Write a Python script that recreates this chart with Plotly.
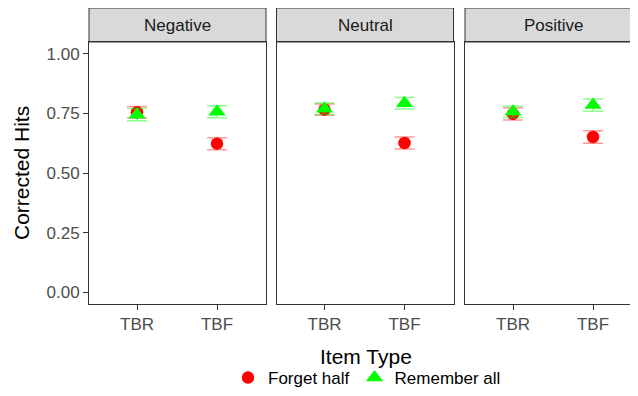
import plotly.graph_objects as go

panels = ["Negative", "Neutral", "Positive"]
item_types = ["TBR", "TBF"]
groups = ["Forget half", "Remember all"]

# means and standard errors per panel: [TBR, TBF]
forget_mean = {"Negative": [0.755, 0.623], "Neutral": [0.766, 0.626], "Positive": [0.748, 0.651]}
forget_se = {"Negative": [0.024, 0.025], "Neutral": [0.024, 0.025], "Positive": [0.026, 0.026]}
remember_mean = {"Negative": [0.745, 0.757], "Neutral": [0.770, 0.793], "Positive": [0.757, 0.785]}
remember_se = {"Negative": [0.026, 0.025], "Neutral": [0.024, 0.024], "Positive": [0.024, 0.026]}

y_ticks = [0.0, 0.25, 0.5, 0.75, 1.0]
y_tick_labels = ["0.00", "0.25", "0.50", "0.75", "1.00"]

# The page body has an 8px margin; the figure sits at (8, 8) in the 638x396 window.
OFF = 8
W, H = 638 - OFF, 396 - OFF


def px(xr):
    return (xr - OFF) / W


def py(yr):
    return (396 - yr) / H


x_domains = [(px(89), px(266)), (px(276.5), px(453.5)), (px(465), 1.0)]
x_ranges = [(-0.6, 1.6125), (-0.6, 1.6125), (-0.6, -0.6 + 173 / 80)]
y_dom = (py(304), py(42))
strip_top = py(8)

FONT = "Liberation Sans, Arial, sans-serif"
AX = "#333333"

fig = go.Figure()
for i, p in enumerate(panels):
    suffix = "" if i == 0 else str(i + 1)
    fig.add_trace(go.Scatter(
        x=item_types, y=forget_mean[p], mode="markers", name=groups[0],
        xaxis="x" + suffix, yaxis="y" + suffix, legendgroup="f", showlegend=(i == 0),
        marker=dict(symbol="circle", size=12.5, color="#FF0000", line=dict(width=0)),
        error_y=dict(type="data", array=forget_se[p], color="rgba(255,0,0,0.4)", thickness=1.5, width=10),
    ))
for i, p in enumerate(panels):
    suffix = "" if i == 0 else str(i + 1)
    fig.add_trace(go.Scatter(
        x=item_types, y=remember_mean[p], mode="markers", name=groups[1],
        xaxis="x" + suffix, yaxis="y" + suffix, legendgroup="r", showlegend=(i == 0),
        marker=dict(symbol="triangle-up", size=15, color="#00FF00", line=dict(width=0)),
        error_y=dict(type="data", array=remember_se[p], color="rgba(0,255,0,0.45)", thickness=1.5, width=10),
    ))

layout = dict(
    width=W, height=H, margin=dict(l=0, r=0, t=0, b=0),
    paper_bgcolor="white", plot_bgcolor="white",
    font=dict(family=FONT, size=17, color="black"),
    legend=dict(orientation="h", x=px(367), xanchor="center", y=0, yanchor="bottom",
                font=dict(size=17, color="black"), itemwidth=30, tracegroupgap=0,
                bgcolor="rgba(0,0,0,0)"),
    shapes=[], annotations=[],
)
for i, p in enumerate(panels):
    suffix = "" if i == 0 else str(i + 1)
    layout["xaxis" + suffix] = dict(
        domain=list(x_domains[i]), anchor="y" + suffix, type="category",
        categoryorder="array", categoryarray=item_types, range=list(x_ranges[i]),
        showgrid=False, zeroline=False, showline=True, linecolor=AX, linewidth=1,
        mirror=True, ticks="outside", ticklen=5, tickcolor=AX, tickwidth=1,
        tickfont=dict(size=17, color="#4D4D4D"), fixedrange=True,
    )
    layout["yaxis" + suffix] = dict(
        domain=list(y_dom), anchor="x" + suffix, range=[-0.05, 1.05],
        tickvals=y_ticks, ticktext=y_tick_labels,
        showticklabels=(i == 0), ticks="outside" if i == 0 else "",
        ticklen=5, tickcolor=AX, tickwidth=1,
        showgrid=False, zeroline=False, showline=True, linecolor=AX, linewidth=1,
        mirror=(i < 2), tickfont=dict(size=17, color="#4D4D4D"), fixedrange=True,
    )
    layout["shapes"].append(dict(
        type="rect", xref="paper", yref="paper",
        x0=x_domains[i][0], x1=x_domains[i][1] + (0.02 if i == 2 else 0),
        y0=y_dom[1], y1=strip_top, fillcolor="#D9D9D9", line=dict(color=AX, width=1), layer="below",
    ))
    layout["annotations"].append(dict(
        text=p, xref="paper", yref="paper",
        x=x_domains[i][0] + 88.5 / W, y=py(26),
        xanchor="center", yanchor="middle", showarrow=False,
        font=dict(size=17, color="#1A1A1A"),
    ))

layout["annotations"].append(dict(
    text="Item Type", xref="paper", yref="paper", x=px(366), y=py(356),
    xanchor="center", yanchor="middle", showarrow=False, font=dict(size=21, color="black"),
))
layout["annotations"].append(dict(
    text="Corrected Hits", xref="paper", yref="paper", x=px(21), y=py(173),
    xanchor="center", yanchor="middle", showarrow=False, textangle=-90,
    font=dict(size=21, color="black"),
))

fig.update_layout(**layout)
fig.write_html("out.html")
